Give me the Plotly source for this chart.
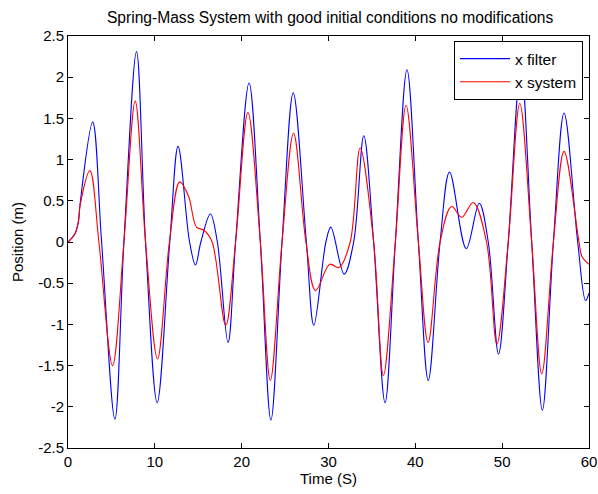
import plotly.graph_objects as go

# x filter (blue) — extrema and zero crossings
t_filter = [0, 0.8, 1.2, 1.4, 2.84, 3.87, 5.40, 6.44, 7.89, 8.93, 10.27, 11.72, 12.68,
            14.0, 14.68, 15.3, 16.40, 17.2, 18.43, 19.3, 20.85, 22.15, 23.37, 24.65,
            25.94, 27.45, 28.31, 29.7, 30.27, 31.8, 32.9, 34.06, 35.2, 36.51, 37.7,
            39.04, 40.35, 41.49, 42.85, 43.94, 45.86, 47.36, 48.4, 49.58, 50.7, 52.15,
            53.4, 54.63, 55.9, 57.13, 58.7, 59.6, 60.0]
x_filter = [0, 0.1, 0.25, 0.47, 1.455, 0, -2.15, 0, 2.31, 0, -1.95, 0, 1.16,
            0, -0.28, 0, 0.34, 0, -1.22, 0, 1.93, 0, -2.16, 0,
            1.81, 0, -1.01, 0, 0.18, -0.39, 0, 1.29, 0, -1.95, 0,
            2.09, 0, -1.68, 0, 0.85, -0.08, 0.47, 0, -1.36, 0, 2.12,
            0, -2.04, 0, 1.565, 0, -0.71, -0.62]

# x system (red)
t_system = [0, 0.8, 1.2, 1.4, 2.53, 3.56, 5.13, 6.44, 7.74, 8.93, 10.31, 11.68, 12.87,
            13.9, 14.8, 15.7, 16.6, 18.16, 19.3, 20.72, 22.15, 23.3, 24.65, 25.98,
            27.4, 28.51, 30.15, 31.2, 32.5, 33.64, 35.2, 36.32, 37.7, 38.93, 40.35,
            41.47, 42.85, 44.17, 45.35, 46.67, 48.2, 49.39, 50.7, 52.03, 53.4, 54.56,
            55.9, 57.13, 58.85, 59.2, 60.0]
x_system = [0, 0.1, 0.25, 0.45, 0.866, 0, -1.50, 0, 1.71, 0, -1.42, 0, 0.73,
            0.55, 0.18, 0.14, 0, -1.01, 0, 1.57, 0, -1.68, 0, 1.32,
            0, -0.59, -0.27, -0.31, 0, 1.14, 0, -1.62, 0, 1.66, 0,
            -1.22, 0, 0.43, 0.30, 0.48, 0, -1.24, 0, 1.68, 0, -1.60,
            0, 1.10, 0, -0.18, -0.27]

x_ticks = [0, 10, 20, 30, 40, 50, 60]
y_ticks = [-2.5, -2, -1.5, -1, -0.5, 0, 0.5, 1, 1.5, 2, 2.5]

FONT = "Liberation Sans, Arial, sans-serif"
FS = 15

fig = go.Figure()
fig.add_trace(go.Scatter(x=t_filter, y=x_filter, mode="lines", name="x filter",
                         line=dict(color="#0000FF", width=1.1, shape="spline", smoothing=1.0)))
fig.add_trace(go.Scatter(x=t_system, y=x_system, mode="lines", name="x system",
                         line=dict(color="#FF0000", width=1.1, shape="spline", smoothing=1.0)))

axis_common = dict(showline=True, linecolor="black", linewidth=1, mirror="ticks",
                   ticks="inside", ticklen=5, tickcolor="black", showgrid=False,
                   zeroline=False, automargin=False,
                   tickfont=dict(family=FONT, size=FS, color="black"))

fig.update_layout(
    template="none",
    width=598, height=494,
    paper_bgcolor="white", plot_bgcolor="white",
    margin=dict(l=68, r=9, t=36, b=46),
    font=dict(family=FONT, size=FS, color="black"),
    title=dict(text="Spring-Mass System with good initial conditions no modifications",
               x=0.552, xanchor="center", y=1 - 18 / 494, yanchor="middle", yref="container",
               font=dict(family=FONT, size=15.6, color="black")),
    xaxis=dict(range=[0, 60], tickvals=x_ticks, ticklabelstandoff=0,
               title=dict(text="Time (S)", standoff=0, font=dict(family=FONT, size=FS)),
               **axis_common),
    yaxis=dict(range=[-2.5, 2.5], tickvals=y_ticks, ticktext=[f"{v:g}" for v in y_ticks],
               title=dict(text="Position (m)", standoff=10, font=dict(family=FONT, size=FS)),
               **axis_common),
    legend=dict(x=0.9885, xanchor="right", y=(448 - 70.5) / 412, yanchor="middle",
                bgcolor="white", bordercolor="black", borderwidth=1, itemwidth=50,
                tracegroupgap=0, font=dict(family=FONT, size=15.5)),
    showlegend=True,
)

fig.write_html("out.html")
